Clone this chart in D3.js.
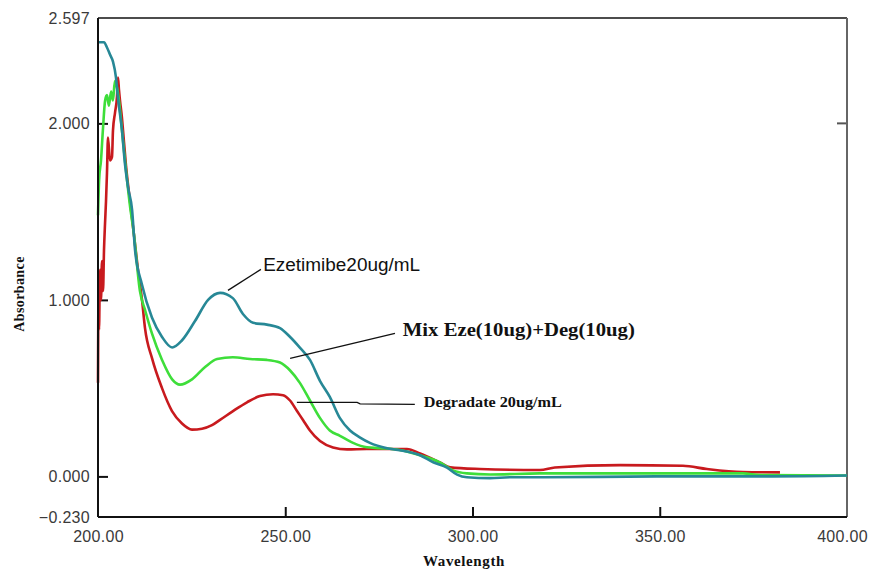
<!DOCTYPE html>
<html>
<head>
<meta charset="utf-8">
<script src="https://cdn.jsdelivr.net/npm/d3@7"></script>
<style>
  body { margin: 0; background: #fff; }
  .tick text { font-family: Arial, "Liberation Sans", sans-serif; font-size: 16px; fill: #3a3a3a; }
  .serif { font-family: "Times New Roman", "Liberation Serif", serif; font-weight: bold; fill: #111; }
</style>
</head>
<body>
<div id="chart"></div>
<script>
var svgWidth = 871;
var svgHeight = 569;

// Spectra: [wavelength (nm), absorbance]
var ezetimibe = [
  [200, 2.46], [201.6, 2.46], [202.4, 2.43], [203.2, 2.39], [204, 2.35], [204.8, 2.26],
  [205.3, 2.15], [206.4, 1.96], [207.2, 1.77], [208, 1.64], [209.1, 1.51], [209.9, 1.28],
  [211.7, 1.09], [214.4, 0.90], [217.1, 0.79], [219.8, 0.73], [222.4, 0.77], [225.9, 0.88],
  [229.4, 1.00], [232.6, 1.04], [236, 1.01], [238.7, 0.92], [241.4, 0.87], [245.1, 0.86],
  [248.6, 0.84], [251.3, 0.79], [253.9, 0.73], [256.6, 0.66], [259.3, 0.54], [261.9, 0.45],
  [264.6, 0.33], [267.3, 0.26], [270, 0.22], [272.6, 0.19], [277.2, 0.16], [280.1, 0.15],
  [286, 0.12], [289.5, 0.08], [293.2, 0.05], [295.9, 0.01], [298.5, -0.005], [304.7, -0.01],
  [310, -0.005], [318, -0.005], [350, 0.0], [380, 0.0], [400, 0.005]
];

var mixture = [
  [200, 1.48], [200.3, 1.68], [200.8, 1.79], [201.3, 1.96], [201.9, 2.13], [202.4, 2.16],
  [202.9, 2.10], [203.5, 2.18], [204, 2.13], [204.5, 2.24], [205.1, 2.20], [205.6, 2.13],
  [206.4, 1.96], [207.5, 1.73], [208.5, 1.54], [209.6, 1.37], [211.2, 1.05], [212.6, 0.94],
  [214.4, 0.81], [217.1, 0.66], [219.8, 0.55], [221.9, 0.52], [225.1, 0.55], [228.6, 0.62],
  [231.8, 0.665], [236, 0.675], [240.6, 0.665], [245.1, 0.66], [248.6, 0.645], [251.3, 0.60],
  [253.9, 0.53], [256.6, 0.43], [259.3, 0.33], [261.9, 0.26], [264.6, 0.23], [268.1, 0.19],
  [271.8, 0.165], [275.3, 0.16], [280.6, 0.15], [286, 0.12], [291.3, 0.08], [294.8, 0.034],
  [298.5, 0.017], [304.7, 0.011], [318, 0.017], [372.2, 0.017], [376.8, 0.008], [400, 0.005]
];

var degradate = [
  [200, 0.53], [200.13, 1.00], [200.27, 0.83], [200.53, 1.17], [200.8, 1.00], [201.07, 1.22],
  [201.34, 1.05], [201.6, 1.28], [201.87, 1.43], [202.14, 1.56], [202.4, 1.72], [202.67, 1.92],
  [203.2, 1.79], [203.74, 1.81], [204, 1.96], [204.54, 2.06], [205.07, 2.15], [205.34, 2.26],
  [205.6, 2.19], [205.87, 2.13], [206.4, 2.03], [206.68, 1.96], [207.48, 1.76], [208.54, 1.56],
  [209.6, 1.37], [210.68, 1.17], [211.75, 1.00], [212.55, 0.84], [214.42, 0.67], [217.09, 0.50],
  [219.76, 0.37], [222.43, 0.30], [225.1, 0.265], [227.77, 0.27], [230.44, 0.29], [232.58, 0.32],
  [236.05, 0.37], [239.79, 0.42], [243.26, 0.455], [246.73, 0.465], [249.4, 0.46], [251.27, 0.43],
  [253.14, 0.37], [254.74, 0.32], [256.6, 0.26], [259.28, 0.20], [262.75, 0.164], [266.5, 0.153],
  [271.8, 0.155], [282.5, 0.155], [286, 0.13], [291.3, 0.079], [294, 0.051], [302, 0.042],
  [318, 0.036], [322, 0.05], [339.4, 0.064], [356.2, 0.06], [362.6, 0.042], [372.2, 0.025],
  [382.1, 0.023]
];

var xTicks = [200, 250, 300, 350, 400];
var yTicks = [2.597, 2.0, 1.0, 0.0, -0.230];

// Callout labels: [text, text anchor point, leader line points]
var labelEze = ["Ezetimibe20ug/mL", [244.1, 1.163], [[234.7, 1.054], [243.5, 1.173]]];
var labelMix = ["Mix Eze(10ug)+Deg(10ug)", [281.4, 0.793], [[251.3, 0.669], [279.3, 0.81]]];
var labelDeg = ["Degradate 20ug/mL", [287.0, 0.391], [[253.1, 0.419], [269.2, 0.419], [270, 0.411], [284.6, 0.408]]];

var svg = d3.select("#chart")
    .append("svg")
    .attr("width", svgWidth)
    .attr("height", svgHeight);

var x = d3.scaleLinear().domain([200, 400]).range([98, 847]);
var y = d3.scaleLinear().domain([-0.23, 2.597]).range([517, 18]);

// Axes (ticks point inward)
var leftAxis = d3.axisLeft(y)
    .tickValues(yTicks)
    .tickFormat(d3.format(".3f"))
    .tickSize(-10)
    .tickPadding(8);

var bottomAxis = d3.axisBottom(x)
    .tickValues(xTicks)
    .tickFormat(d3.format(".2f"))
    .tickSize(-10)
    .tickPadding(14);

var yAxis = svg.append("g")
    .attr("transform", `translate(${x(200)}, 0)`)
    .call(leftAxis);

var xAxis = svg.append("g")
    .attr("transform", `translate(0, ${y(-0.23)})`)
    .call(bottomAxis);

yAxis.select(".domain").remove();
xAxis.select(".domain").remove();
yAxis.selectAll(".tick line")
    .attr("stroke", "#111")
    .attr("stroke-width", 2)
    .attr("display", d => (d === 2.597 || d === -0.23) ? "none" : null);
xAxis.selectAll(".tick line")
    .attr("stroke", "#111")
    .attr("stroke-width", 2)
    .attr("display", d => (d === 200 || d === 400) ? "none" : null);
xAxis.selectAll(".tick text")
    .style("letter-spacing", "0.3px")
    .attr("dx", d => d === 400 ? -5 : 0);
yAxis.selectAll(".tick text").style("letter-spacing", "0.3px");

// Right-hand tick at 2.000
svg.append("line")
    .attr("x1", x(400) - 10).attr("x2", x(400))
    .attr("y1", y(2)).attr("y2", y(2))
    .attr("stroke", "#555").attr("stroke-width", 2);

// Frame
svg.append("line").attr("x1", x(200)).attr("x2", x(400)).attr("y1", y(2.597)).attr("y2", y(2.597))
    .attr("stroke", "#111").attr("stroke-width", 1.5);
svg.append("line").attr("x1", x(400)).attr("x2", x(400)).attr("y1", y(2.597)).attr("y2", y(-0.23))
    .attr("stroke", "#666").attr("stroke-width", 2);

// Spectra
var line = d3.line()
    .x(d => x(d[0]))
    .y(d => y(d[1]))
    .curve(d3.curveMonotoneX);

var series = [
    { data: degradate, color: "#c81a1e" },
    { data: mixture, color: "#3ede3a" },
    { data: ezetimibe, color: "#278896" }
];

svg.selectAll(".spectrum")
    .data(series)
    .enter()
    .append("path")
    .attr("class", "spectrum")
    .attr("d", d => line(d.data))
    .attr("fill", "none")
    .attr("stroke", d => d.color)
    .attr("stroke-width", 2.6)
    .attr("stroke-linejoin", "round");

// Left and bottom axis lines drawn over the curves
svg.append("line").attr("x1", x(200)).attr("x2", x(200)).attr("y1", y(2.597)).attr("y2", y(-0.23))
    .attr("stroke", "#111").attr("stroke-width", 2);
svg.append("line").attr("x1", x(200)).attr("x2", x(400)).attr("y1", y(-0.23)).attr("y2", y(-0.23))
    .attr("stroke", "#111").attr("stroke-width", 2);

// Callouts
var leader = d3.line().x(d => x(d[0])).y(d => y(d[1]));

[labelEze, labelMix, labelDeg].forEach(function (lab) {
    svg.append("path")
        .attr("d", leader(lab[2]))
        .attr("fill", "none")
        .attr("stroke", "#111")
        .attr("stroke-width", 1.3);
});

svg.append("text")
    .attr("x", x(labelEze[1][0]))
    .attr("y", y(labelEze[1][1]))
    .attr("textLength", 157)
    .attr("lengthAdjust", "spacingAndGlyphs")
    .style("font-family", "Arial, 'Liberation Sans', sans-serif")
    .style("font-size", "18px")
    .style("fill", "#111")
    .text(labelEze[0]);

svg.append("text")
    .attr("class", "serif")
    .attr("x", x(labelMix[1][0]))
    .attr("y", y(labelMix[1][1]))
    .attr("textLength", 232)
    .attr("lengthAdjust", "spacingAndGlyphs")
    .style("font-size", "19px")
    .text(labelMix[0]);

svg.append("text")
    .attr("class", "serif")
    .attr("x", x(labelDeg[1][0]))
    .attr("y", y(labelDeg[1][1]))
    .attr("textLength", 138)
    .attr("lengthAdjust", "spacingAndGlyphs")
    .style("font-size", "15px")
    .text(labelDeg[0]);

// Axis titles
svg.append("text")
    .attr("class", "serif")
    .attr("x", 464)
    .attr("y", 566)
    .attr("text-anchor", "middle")
    .style("font-size", "15px")
    .style("letter-spacing", "0.6px")
    .text("Wavelength");

svg.append("text")
    .attr("class", "serif")
    .attr("transform", "translate(24, 294) rotate(-90)")
    .attr("text-anchor", "middle")
    .style("font-size", "14px")
    .style("letter-spacing", "0.4px")
    .text("Absorbance");
</script>
</body>
</html>
